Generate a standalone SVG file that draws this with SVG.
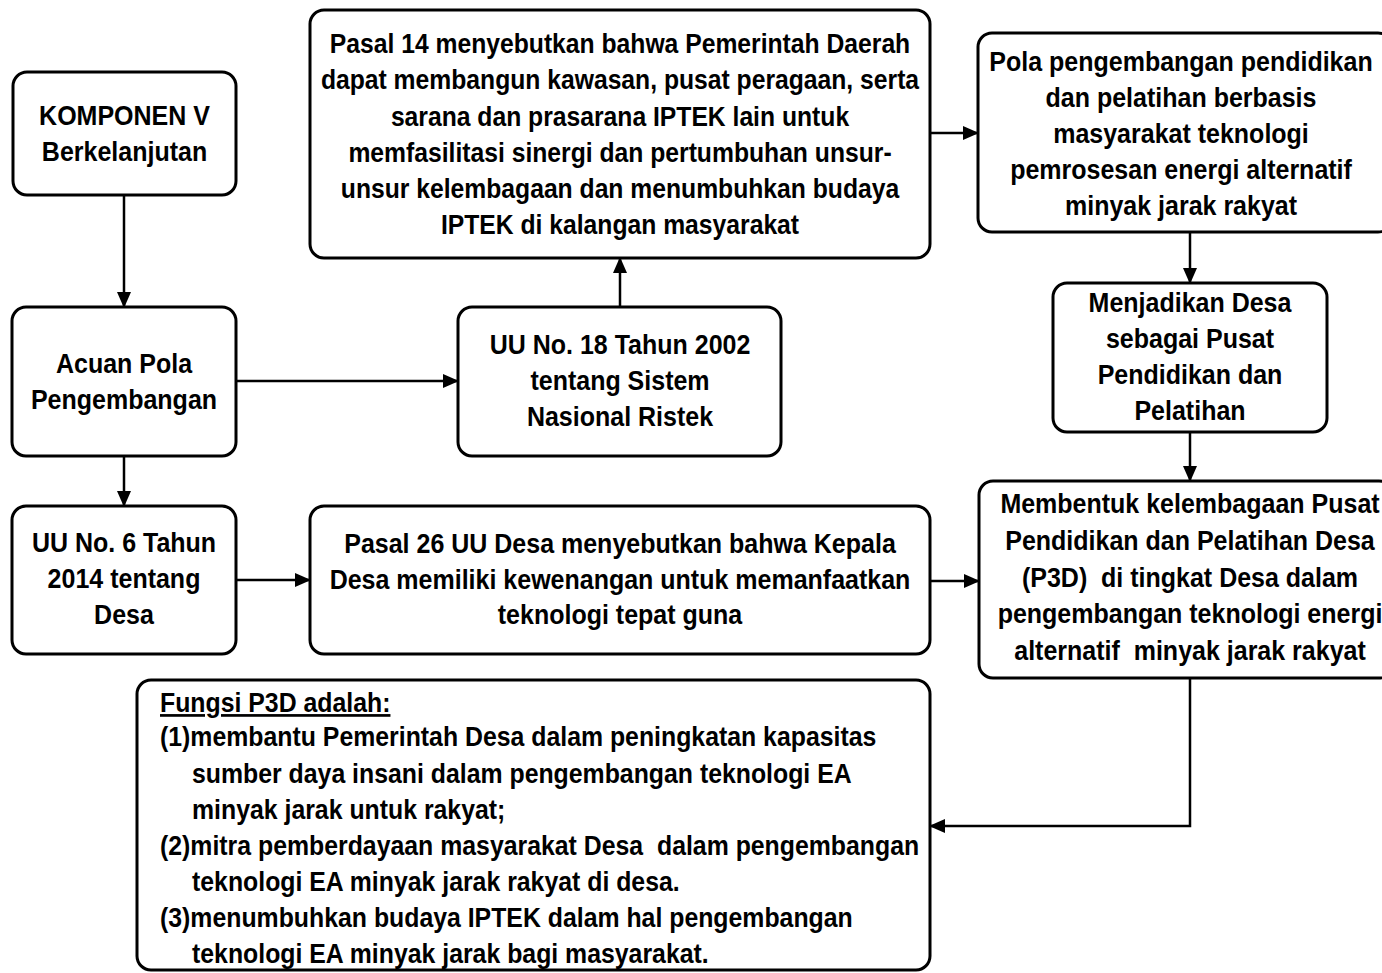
<svg xmlns="http://www.w3.org/2000/svg" width="1382" height="973" viewBox="0 0 1382 973">
<style>
.box{fill:#fff;stroke:#000;stroke-width:3}
.t{font-family:"Liberation Sans",Arial,sans-serif;font-weight:bold;font-size:27px;fill:#000;text-anchor:middle}
.l{font-family:"Liberation Sans",Arial,sans-serif;font-weight:bold;font-size:27px;fill:#000}
.c{fill:none;stroke:#000;stroke-width:2.5}
</style>
<defs>
<marker id="ah" markerUnits="userSpaceOnUse" markerWidth="16" markerHeight="14" refX="15" refY="7" orient="auto">
<path d="M0,0 L16,7 L0,14 z" fill="#000"/>
</marker>
</defs>
<rect width="1382" height="973" fill="#fff"/>
<g id="connectors">
<path class="c" d="M124,195 V307" marker-end="url(#ah)"/>
<path class="c" d="M124,456 V506" marker-end="url(#ah)"/>
<path class="c" d="M236,381 H458" marker-end="url(#ah)"/>
<path class="c" d="M620,307 V258" marker-end="url(#ah)"/>
<path class="c" d="M930,133 H978" marker-end="url(#ah)"/>
<path class="c" d="M1190,232 V283" marker-end="url(#ah)"/>
<path class="c" d="M1190,432 V481" marker-end="url(#ah)"/>
<path class="c" d="M236,580 H310" marker-end="url(#ah)"/>
<path class="c" d="M930,581 H979" marker-end="url(#ah)"/>
<path class="c" d="M1190,678 V826 H930" marker-end="url(#ah)"/>
</g>
<g id="komponen">
<rect class="box" x="13" y="72" width="223" height="123" rx="14"/>
<g transform="translate(124.5 0) scale(0.926 1)">
<text class="t" x="0" y="125">KOMPONEN V</text>
<text class="t" x="0" y="161">Berkelanjutan</text>
</g>
</g>
<g id="acuan">
<rect class="box" x="12" y="307" width="224" height="149" rx="14"/>
<g transform="translate(124 0) scale(0.926 1)">
<text class="t" x="0" y="373">Acuan Pola</text>
<text class="t" x="0" y="409">Pengembangan</text>
</g>
</g>
<g id="uu6">
<rect class="box" x="12" y="506" width="224" height="148" rx="14"/>
<g transform="translate(124 0) scale(0.926 1)">
<text class="t" x="0" y="552">UU No. 6 Tahun</text>
<text class="t" x="0" y="588">2014 tentang</text>
<text class="t" x="0" y="624">Desa</text>
</g>
</g>
<g id="pasal14">
<rect class="box" x="310" y="10" width="620" height="248" rx="14"/>
<g transform="translate(620 0) scale(0.915 1)">
<text class="t" x="0" y="53">Pasal 14 menyebutkan bahwa Pemerintah Daerah</text>
<text class="t" x="0" y="89">dapat membangun kawasan, pusat peragaan, serta</text>
<text class="t" x="0" y="126">sarana dan prasarana IPTEK lain untuk</text>
<text class="t" x="0" y="162">memfasilitasi sinergi dan pertumbuhan unsur-</text>
<text class="t" x="0" y="198">unsur kelembagaan dan menumbuhkan budaya</text>
<text class="t" x="0" y="234">IPTEK di kalangan masyarakat</text>
</g>
</g>
<g id="uu18">
<rect class="box" x="458" y="307" width="323" height="149" rx="14"/>
<g transform="translate(620 0) scale(0.926 1)">
<text class="t" x="0" y="354">UU No. 18 Tahun 2002</text>
<text class="t" x="0" y="390">tentang Sistem</text>
<text class="t" x="0" y="426">Nasional Ristek</text>
</g>
</g>
<g id="pasal26">
<rect class="box" x="310" y="506" width="620" height="148" rx="14"/>
<g transform="translate(620 0) scale(0.926 1)">
<text class="t" x="0" y="553">Pasal 26 UU Desa menyebutkan bahwa Kepala</text>
<text class="t" x="0" y="589">Desa memiliki kewenangan untuk memanfaatkan</text>
<text class="t" x="0" y="624">teknologi tepat guna</text>
</g>
</g>
<g id="pola">
<rect class="box" x="978" y="33" width="414" height="199" rx="14"/>
<g transform="translate(1181 0) scale(0.926 1)">
<text class="t" x="0" y="71">Pola pengembangan pendidikan</text>
<text class="t" x="0" y="107">dan pelatihan berbasis</text>
<text class="t" x="0" y="143">masyarakat teknologi</text>
<text class="t" x="0" y="179">pemrosesan energi alternatif</text>
<text class="t" x="0" y="215">minyak jarak rakyat</text>
</g>
</g>
<g id="menjadikan">
<rect class="box" x="1053" y="283" width="274" height="149" rx="14"/>
<g transform="translate(1190 0) scale(0.926 1)">
<text class="t" x="0" y="312">Menjadikan Desa</text>
<text class="t" x="0" y="348">sebagai Pusat</text>
<text class="t" x="0" y="384">Pendidikan dan</text>
<text class="t" x="0" y="420">Pelatihan</text>
</g>
</g>
<g id="membentuk">
<rect class="box" x="979" y="481" width="414" height="197" rx="14"/>
<g transform="translate(1190 0) scale(0.926 1)">
<text class="t" x="0" y="513">Membentuk kelembagaan Pusat</text>
<text class="t" x="0" y="550">Pendidikan dan Pelatihan Desa</text>
<text class="t" x="0" y="587" xml:space="preserve">(P3D)  di tingkat Desa dalam</text>
<text class="t" x="0" y="623">pengembangan teknologi energi</text>
<text class="t" x="0" y="660" xml:space="preserve">alternatif  minyak jarak rakyat</text>
</g>
</g>
<g id="fungsi">
<rect class="box" x="137" y="680" width="793" height="290" rx="14"/>
<g transform="translate(160 0) scale(0.92 1)">
<text class="l" x="0" y="712" text-decoration="underline">Fungsi P3D adalah:</text>
<text class="l" x="0" y="746">(1)membantu Pemerintah Desa dalam peningkatan kapasitas</text>
<text class="l" x="34.8" y="783">sumber daya insani dalam pengembangan teknologi EA</text>
<text class="l" x="34.8" y="819">minyak jarak untuk rakyat;</text>
<text class="l" x="0" y="855" xml:space="preserve">(2)mitra pemberdayaan masyarakat Desa  dalam pengembangan</text>
<text class="l" x="34.8" y="891">teknologi EA minyak jarak rakyat di desa.</text>
<text class="l" x="0" y="927">(3)menumbuhkan budaya IPTEK dalam hal pengembangan</text>
<text class="l" x="34.8" y="963">teknologi EA minyak jarak bagi masyarakat.</text>
</g>
</g>
</svg>
